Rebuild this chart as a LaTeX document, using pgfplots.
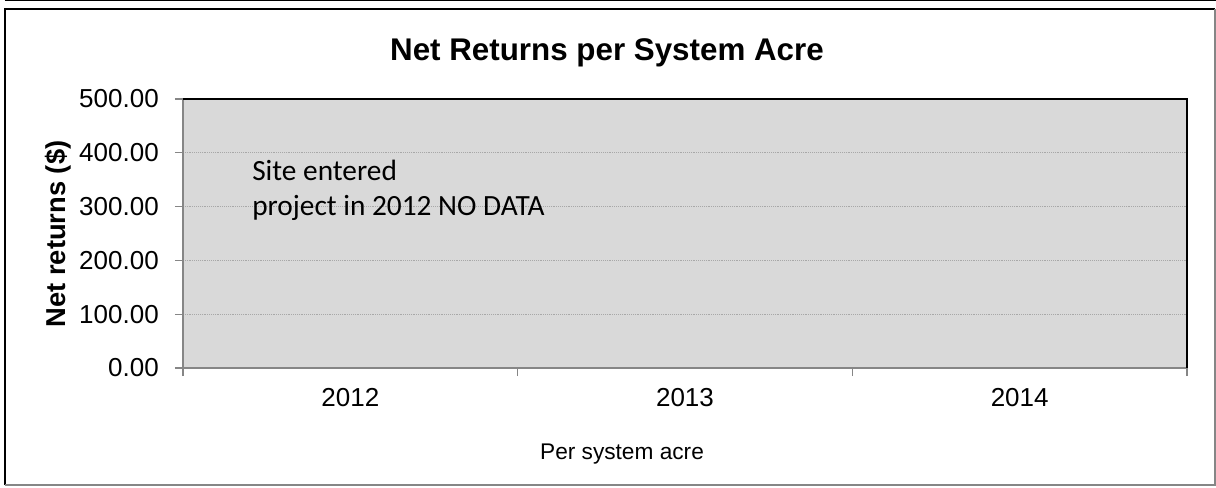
\documentclass[border=0pt]{standalone}
\usepackage{pgfplots}
\pgfplotsset{compat=1.18}
\usepackage{fontspec}
\setmainfont{Liberation Sans}
\newfontfamily\calibri{Carlito}
\definecolor{plotbg}{HTML}{D9D9D9}
\definecolor{axgray}{HTML}{868686}
\definecolor{gridgray}{HTML}{A8A8A8}
\begin{document}
\begin{tikzpicture}[x=0.75pt,y=0.75pt]
\useasboundingbox (-183,-119) rectangle (1033,368);
\begin{axis}[
  at={(0,0)}, anchor=south west,
  scale only axis, width=753pt, height=201.75pt,
  xmin=-0.5, xmax=2.5, ymin=0, ymax=500,
  axis background/.style={fill=plotbg},
  axis line style={draw=none},
  xtick={0,1,2}, xticklabels={2012,2013,2014},
  minor xtick={-0.5,0.5,1.5,2.5},
  ytick={0,100,200,300,400,500},
  ymajorgrids, major grid style={gridgray, densely dotted, line width=0.6pt},
  tick align=outside, tick pos=left,
  major tick length=6pt, minor tick length=6pt,
  major x tick style={draw=none},
  tick style={axgray, line width=1pt},
  yticklabel={\pgfmathprintnumber[fixed,fixed zerofill,precision=2,assume math mode=true]{\tick}},
  yticklabel style={font=\fontsize{19.5}{22}\selectfont, anchor=east, inner sep=0pt, xshift=-12pt},
  xticklabel style={font=\fontsize{19.5}{22}\selectfont, anchor=base, inner sep=0pt, yshift=-22.5pt},
]
\end{axis}
\draw[axgray, line width=1.5pt] (0,269) -- (0,0) -- (1004,0);
\draw[black, line width=1.5pt] (0,269) -- (1004,269) -- (1004,0);
% outer frame
\draw[black, line width=1.3pt] (-178,-117) -- (-178,359) -- (1032,359);
\draw[axgray, line width=1.3pt] (1032,359) -- (1032,-117) -- (-178,-117);
\draw[black, line width=1.3pt] (-178,367.5) -- (1033,367.5);
% labels
\node[anchor=base, inner sep=0pt, font=\bfseries\fontsize{23.5}{27}\selectfont] at (424,308) {Net Returns per System Acre};
\node[anchor=base, inner sep=0pt, rotate=90, font=\bfseries\fontsize{20.5}{24}\selectfont] at (-117,134) {Net returns (\$)};
\node[anchor=base, inner sep=0pt, font=\fontsize{17}{20}\selectfont] at (439,-91) {Per system acre};
\node[anchor=base west, inner sep=0pt, font=\calibri\fontsize{22}{26}\selectfont] at (69,188) {Site entered};
\node[anchor=base west, inner sep=0pt, font=\calibri\fontsize{22}{26}\selectfont] at (69,153) {project in 2012 NO DATA};
\end{tikzpicture}
\end{document}
